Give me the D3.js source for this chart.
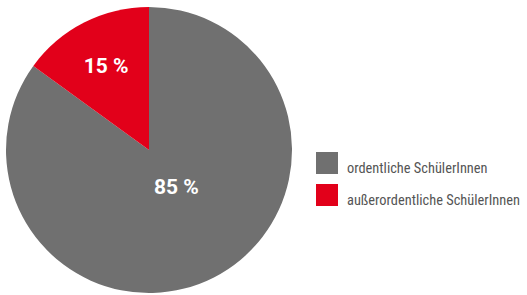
<!DOCTYPE html>
<html>
<head>
<meta charset="utf-8">
<script src="https://cdn.jsdelivr.net/npm/d3@7"></script>
<style>
  body { margin: 0; background: #fff; }
  svg { display: block; }
</style>
</head>
<body>
<svg id="chart" width="527" height="295"></svg>
<script>
const categories = ["ordentliche SchülerInnen", "außerordentliche SchülerInnen"];
const values = [85, 15];
const colours = ["#707070", "#e2001a"];

const $svg = d3.select("svg#chart");
const radius = 143;
const cx = 149;
const cy = 150;

const pie = d3.pie().sort(null).value((d) => d.value);
const arcs = pie(categories.map((name, i) => ({ name, value: values[i], colour: colours[i] })));
const arc = d3.arc().innerRadius(0).outerRadius(radius);

const $pie = $svg.append("g").attr("transform", `translate(${cx},${cy})`);

$pie
  .selectAll("path")
  .data(arcs)
  .join("path")
  .attr("d", arc)
  .attr("fill", (d) => d.data.colour);

// labels sit at different depths in the big and small slice
const labelRadius = (d) => (d.data.value > 50 ? 0.33 : 0.66) * radius;

$pie
  .selectAll("text")
  .data(arcs)
  .join("text")
  .attr("transform", (d) => {
    const r = labelRadius(d);
    const [x, y] = d3.arc().innerRadius(r).outerRadius(r).centroid(d);
    const nudge = d.data.value > 50 ? 6 : 0;
    return `translate(${x + nudge},${y - nudge})`;
  })
  .attr("text-anchor", "middle")
  .attr("dy", "0.36em")
  .attr("fill", "#fff")
  .attr("font-family", "Roboto, 'Liberation Sans', sans-serif")
  .attr("font-weight", "bold")
  .attr("font-size", 21)
  .text((d) => `${d.data.value} %`);

const $legend = $svg.append("g").attr("transform", "translate(316,152)");

const items = $legend
  .selectAll("g")
  .data(arcs)
  .join("g")
  .attr("transform", (d, i) => `translate(0,${i * 32})`);

items
  .append("rect")
  .attr("width", 22)
  .attr("height", 22)
  .attr("fill", (d) => d.data.colour);

items
  .append("text")
  .attr("x", 31)
  .attr("y", 21)
  .attr("fill", "#555")
  .attr("font-family", "'Liberation Sans Narrow', 'Roboto Condensed', Roboto, sans-serif")
  .attr("font-size", 14.4)
  .text((d) => d.data.name);
</script>
</body>
</html>
